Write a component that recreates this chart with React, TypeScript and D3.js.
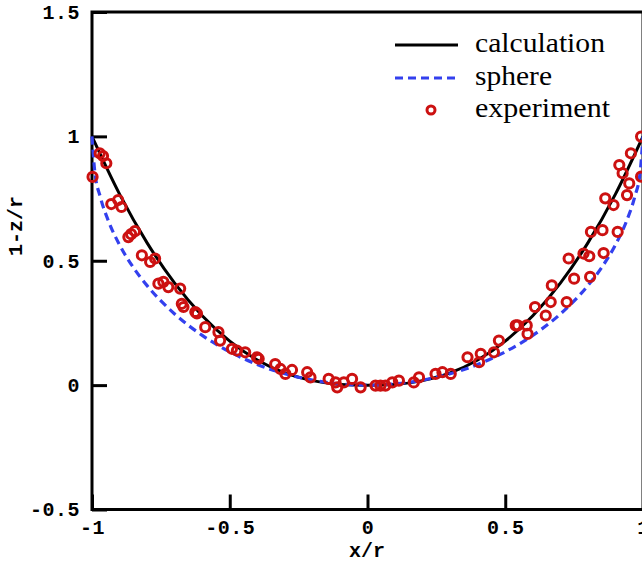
import React, { useRef, useEffect } from "react";
import * as d3 from "d3";

// calculation curve
const calcX = [-1, -0.9, -0.8, -0.7, -0.6, -0.5, -0.4, -0.3, -0.2, -0.1, 0, 0.1, 0.2, 0.3, 0.4, 0.5, 0.6, 0.7, 0.8, 0.9, 1];
const calcY = [1, 0.768, 0.572, 0.41, 0.279, 0.177, 0.101, 0.049, 0.018, 0.003, 0, 0.003, 0.018, 0.049, 0.101, 0.177, 0.279, 0.41, 0.572, 0.768, 1];

// sphere curve
const sphereX = [-1, -0.99, -0.97, -0.94, -0.9, -0.85, -0.8, -0.7, -0.6, -0.5, -0.4, -0.3, -0.2, -0.1, 0, 0.1, 0.2, 0.3, 0.4, 0.5, 0.6, 0.7, 0.8, 0.85, 0.9, 0.94, 0.97, 0.99, 1];
const sphereY = [1, 0.859, 0.757, 0.659, 0.564, 0.473, 0.4, 0.286, 0.2, 0.134, 0.083, 0.046, 0.02, 0.005, 0, 0.005, 0.02, 0.046, 0.083, 0.134, 0.2, 0.286, 0.4, 0.473, 0.564, 0.659, 0.757, 0.859, 1];

// experiment points
const expX = [
  -0.998, -0.972, -0.96, -0.948, -0.93, -0.905, -0.893, -0.868, -0.858, -0.844,
  -0.819, -0.789, -0.771, -0.759, -0.741, -0.723, -0.68, -0.674, -0.668, -0.625,
  -0.619, -0.589, -0.541, -0.535, -0.492, -0.474, -0.444, -0.401, -0.395, -0.335,
  -0.316, -0.298, -0.274, -0.219, -0.207, -0.141, -0.116, -0.11, -0.086, -0.056,
  -0.025, 0.029, 0.047, 0.065, 0.09, 0.114, 0.168, 0.187, 0.247, 0.272,
  0.302, 0.363, 0.411, 0.405, 0.459, 0.477, 0.538, 0.545, 0.578, 0.581,
  0.608, 0.647, 0.669, 0.665, 0.723, 0.73, 0.75, 0.784, 0.805, 0.808,
  0.857, 0.811, 0.853, 0.908, 0.863, 0.893, 0.942, 0.914, 0.926, 0.95,
  0.956, 0.993, 0.993,
];
const expY = [
  0.837, 0.932, 0.921, 0.892, 0.728, 0.744, 0.716, 0.595, 0.607, 0.619,
  0.522, 0.495, 0.509, 0.408, 0.415, 0.394, 0.388, 0.327, 0.314, 0.294,
  0.288, 0.233, 0.213, 0.179, 0.146, 0.139, 0.132, 0.112, 0.106, 0.085,
  0.065, 0.045, 0.061, 0.052, 0.031, 0.025, 0.011, -0.009, 0.011, 0.025,
  -0.009, -0.002, -0.002, -0.002, 0.011, 0.018, 0.011, 0.031, 0.045, 0.052,
  0.045, 0.112, 0.126, 0.092, 0.132, 0.179, 0.24, 0.24, 0.24, 0.206,
  0.314, 0.28, 0.401, 0.334, 0.334, 0.509, 0.428, 0.529, 0.518, 0.435,
  0.531, 0.616, 0.623, 0.616, 0.751, 0.724, 0.764, 0.885, 0.852, 0.811,
  0.932, 0.999, 0.838,
];

const xTicks = [-1, -0.5, 0, 0.5, 1];
const xTickLabels = ["-1", "-0.5", "0", "0.5", "1"];
const yTicks = [-0.5, 0, 0.5, 1, 1.5];
const yTickLabels = ["-0.5", "0", "0.5", "1", "1.5"];

const legendNames = ["calculation", "sphere", "experiment"];

const W = 642;
const H = 563;
const RED = "#cc1111";
const BLUE = "#3340ee";
const MONO = "'Liberation Mono', 'DejaVu Sans Mono', monospace";
const SERIF = "'Liberation Serif', 'Times New Roman', serif";

const Chart = () => {
  const ref = useRef<SVGSVGElement>(null);

  useEffect(() => {
    const svg = d3.select(ref.current);
    svg.selectAll("*").remove();

    const margin = { left: 92, right: 643, top: 12, bottom: 509.5 };

    const x = d3.scaleLinear().domain([-1, 1]).range([margin.left, margin.right]);
    const y = d3.scaleLinear().domain([-0.5, 1.5]).range([margin.bottom, margin.top]);

    // axes with inward ticks
    const xAxis = svg
      .append("g")
      .attr("transform", `translate(0,${margin.bottom})`)
      .call(
        d3
          .axisBottom(x)
          .tickValues(xTicks)
          .tickFormat((d, i) => xTickLabels[i])
          .tickSize(-15)
          .tickSizeOuter(0)
          .tickPadding(10)
      );
    const yAxis = svg
      .append("g")
      .attr("transform", `translate(${margin.left},0)`)
      .call(
        d3
          .axisLeft(y)
          .tickValues(yTicks)
          .tickFormat((d, i) => yTickLabels[i])
          .tickSize(-15)
          .tickSizeOuter(0)
          .tickPadding(12)
      );

    [xAxis, yAxis].forEach((g) => {
      g.select(".domain").remove();
      g.selectAll(".tick line").attr("stroke", "#000").attr("stroke-width", 3);
      g.selectAll(".tick text")
        .attr("fill", "#000")
        .style("font-family", MONO)
        .style("font-weight", "bold")
        .style("font-size", "20px")
        .style("letter-spacing", "0.5px");
    });

    // frame
    svg
      .append("rect")
      .attr("x", margin.left)
      .attr("y", margin.top)
      .attr("width", margin.right - margin.left)
      .attr("height", margin.bottom - margin.top)
      .attr("fill", "none")
      .attr("stroke", "#000")
      .attr("stroke-width", 3);

    // curves
    const calc = calcX.map((v, i) => [v, calcY[i]] as [number, number]);
    const sphere = sphereX.map((v, i) => [v, sphereY[i]] as [number, number]);
    const line = d3
      .line<[number, number]>()
      .x((d) => x(d[0]))
      .y((d) => y(d[1]))
      .curve(d3.curveMonotoneX);

    svg
      .append("path")
      .attr("d", line(calc))
      .attr("fill", "none")
      .attr("stroke", "#000")
      .attr("stroke-width", 3);

    svg
      .append("path")
      .attr("d", line(sphere))
      .attr("fill", "none")
      .attr("stroke", BLUE)
      .attr("stroke-width", 3.2)
      .attr("stroke-dasharray", "8,5");

    // experiment markers
    svg
      .append("g")
      .selectAll("circle")
      .data(expX.map((v, i) => [v, expY[i]]))
      .enter()
      .append("circle")
      .attr("cx", (d) => x(d[0]))
      .attr("cy", (d) => y(d[1]))
      .attr("r", 4.6)
      .attr("fill", "none")
      .attr("stroke", RED)
      .attr("stroke-width", 3);

    // legend
    const lg = svg.append("g");
    lg.append("line")
      .attr("x1", 395).attr("x2", 458).attr("y1", 45).attr("y2", 45)
      .attr("stroke", "#000").attr("stroke-width", 3);
    lg.append("line")
      .attr("x1", 395).attr("x2", 458).attr("y1", 78).attr("y2", 78)
      .attr("stroke", BLUE).attr("stroke-width", 3.2).attr("stroke-dasharray", "8,5");
    lg.append("circle")
      .attr("cx", 431).attr("cy", 110).attr("r", 4)
      .attr("fill", "none").attr("stroke", RED).attr("stroke-width", 3);
    const widths = [130, 77, 135];
    const baselines = [52, 85, 117];
    legendNames.forEach((name, i) => {
      lg.append("text")
        .attr("x", 475)
        .attr("y", baselines[i])
        .attr("textLength", widths[i])
        .attr("lengthAdjust", "spacingAndGlyphs")
        .style("font-family", SERIF)
        .style("font-size", "27px")
        .attr("fill", "#000")
        .text(name);
    });

    // axis titles
    svg
      .append("text")
      .attr("x", 367)
      .attr("y", 557)
      .attr("text-anchor", "middle")
      .style("font-family", MONO)
      .style("font-weight", "bold")
      .style("font-size", "20px")
      .text("x/r");
    svg
      .append("text")
      .attr("transform", "translate(22,226) rotate(-90)")
      .attr("text-anchor", "middle")
      .style("font-family", MONO)
      .style("font-weight", "bold")
      .style("font-size", "20px")
      .text("1-z/r");
  }, []);

  return (
    <svg
      ref={ref}
      width={W}
      height={H}
      style={{ position: "absolute", left: 0, top: 0, background: "#fff" }}
    />
  );
};

export default function App() {
  return <Chart />;
}
